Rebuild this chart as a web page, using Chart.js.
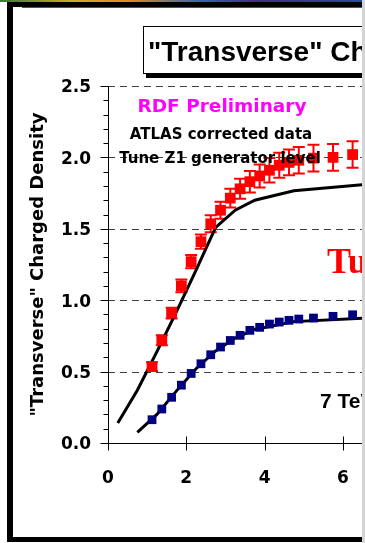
<!DOCTYPE html>
<html>
<head>
<meta charset="utf-8">
<script src="https://cdn.jsdelivr.net/npm/chart.js@4.4.0/dist/chart.umd.min.js"></script>
<style>
  html, body { margin: 0; padding: 0; background: #fff; overflow: hidden; }
  #slide { position: relative; width: 365px; height: 543px; overflow: hidden; }
  #chartBox { position: absolute; left: 0; top: 0; width: 362px; height: 543px; }
  .blk { position: absolute; background: #000; }
  #topStrip { position: absolute; left: 0; top: 0; width: 365px; height: 2px;
    background: linear-gradient(to right, #3a7a3a 0%, #c8b020 20%, #e08a20 35%, #2a6ab0 55%, #403080 70%, #2050a0 100%); }
  #blueLine { position: absolute; left: 22px; top: 7px; width: 340px; height: 1px; background: #3050c0; }
  #greyEdge { position: absolute; left: 362px; top: 0; width: 3px; height: 543px; background: #d4d4d4; }
  #titleBox { position: absolute; left: 143px; top: 26px; width: 400px; height: 46px;
    border: 1px solid #000; background: #fff; box-shadow: 3px 4px 0 #000; }
  #titleBox span { position: absolute; left: 4px; top: 11px; white-space: nowrap;
    font: bold 28px "Liberation Sans", Arial, sans-serif; line-height: 28px; color: #000; }
  #tuneTxt { position: absolute; left: 327px; top: 243px; white-space: nowrap;
    font: bold 36px "Liberation Serif", "Times New Roman", serif; line-height: 36px; color: #ff0000; }
  #energyTxt { position: absolute; left: 320px; top: 390px; white-space: nowrap;
    font: bold 21px "Liberation Sans", Arial, sans-serif; line-height: 21px; color: #000; }
</style>
</head>
<body>
<div id="slide">
  <div id="chartBox"><canvas id="chart"></canvas></div>
  <div id="tuneTxt">Tune Z1</div>
  <div id="energyTxt">7 TeV</div>
  <div id="topStrip"></div>
  <div class="blk" style="left:7px; top:2px; width:355px; height:5px;"></div>
  <div id="blueLine"></div>
  <div class="blk" style="left:7px; top:2px; width:6px; height:540px;"></div>
  <div class="blk" style="left:7px; top:537px; width:355px; height:5px;"></div>
  <div id="titleBox"><span>"Transverse" Charged Particle Density</span></div>
  <div id="greyEdge"></div>
</div>
<script>
// PTmax bins (GeV/c) of the corrected data
const dataPt = [1.125, 1.375, 1.625, 1.875, 2.125, 2.375, 2.625, 2.875, 3.125, 3.375,
  3.625, 3.875, 4.125, 4.375, 4.625, 4.875, 5.25, 5.75, 6.25];
const redDensity = [0.535, 0.72, 0.91, 1.10, 1.27, 1.41, 1.535, 1.63, 1.715, 1.78,
  1.83, 1.87, 1.91, 1.945, 1.965, 1.98, 1.995, 2.00, 2.02];
const redError = [0.03, 0.035, 0.038, 0.045, 0.047, 0.05, 0.06, 0.06, 0.065, 0.07,
  0.075, 0.08, 0.085, 0.088, 0.09, 0.093, 0.093, 0.093, 0.093];
const blueDensity = [0.163, 0.238, 0.32, 0.405, 0.487, 0.555, 0.618, 0.672, 0.718, 0.754,
  0.789, 0.81, 0.833, 0.847, 0.859, 0.868, 0.875, 0.887, 0.898];

// generator level curves
const mcUpperPt = [0.25, 0.75, 1.25, 1.75, 2.25, 2.75, 3.25, 3.75, 4.75, 6.75];
const mcUpper = [0.14, 0.37, 0.64, 0.92, 1.21, 1.51, 1.63, 1.70, 1.767, 1.815];
const mcLowerPt = [0.75, 1.25, 1.75, 2.25, 2.75, 3.25, 3.75, 4.75, 6.75];
const mcLower = [0.074, 0.20, 0.365, 0.52, 0.645, 0.735, 0.795, 0.85, 0.877];

const xTicks = [0, 2, 4, 6];
const yLabels = ['0.0', '0.5', '1.0', '1.5', '2.0', '2.5'];

const toPoints = (xs, ys) => xs.map((x, i) => ({x: x, y: ys[i]}));

const decor = {
	id: 'decor',
	beforeDatasetsDraw(chart) {
		const {ctx, chartArea: a, scales: {x, y}} = chart;
		ctx.save();

		// dashed horizontal grid
		ctx.strokeStyle = '#404040';
		ctx.lineWidth = 1;
		ctx.setLineDash([7, 5]);
		y.ticks.forEach(t => {
			if (t.value === 0) return;
			const py = Math.round(y.getPixelForValue(t.value)) + 0.5;
			ctx.beginPath();
			ctx.moveTo(a.left, py);
			ctx.lineTo(a.right, py);
			ctx.stroke();
		});
		ctx.setLineDash([]);

		// axes
		ctx.strokeStyle = '#000';
		const ax = Math.round(a.left) + 0.5;
		const ay = Math.round(a.bottom) + 0.5;
		ctx.beginPath();
		ctx.moveTo(ax, a.top);
		ctx.lineTo(ax, ay);
		ctx.lineTo(a.right, ay);
		ctx.stroke();

		// y tick marks, minor every 0.1
		for (let i = 0; i <= 25; i++) {
			const py = Math.round(y.getPixelForValue(i / 10)) + 0.5;
			ctx.beginPath();
			ctx.moveTo(ax - (i % 5 === 0 ? 8 : 5), py);
			ctx.lineTo(ax, py);
			ctx.stroke();
		}
		// x tick marks
		xTicks.forEach(v => {
			const px = Math.round(x.getPixelForValue(v)) + 0.5;
			ctx.beginPath();
			ctx.moveTo(px, ay - 7);
			ctx.lineTo(px, ay + 7);
			ctx.stroke();
		});

		// error bars on the red data
		ctx.strokeStyle = '#ff0000';
		ctx.lineWidth = 2;
		dataPt.forEach((p, i) => {
			const px = x.getPixelForValue(p);
			const hi = y.getPixelForValue(redDensity[i] + redError[i]);
			const lo = y.getPixelForValue(redDensity[i] - redError[i]);
			ctx.beginPath();
			ctx.moveTo(px, hi);
			ctx.lineTo(px, lo);
			ctx.moveTo(px - 6, hi);
			ctx.lineTo(px + 6, hi);
			ctx.moveTo(px - 6, lo);
			ctx.lineTo(px + 6, lo);
			ctx.stroke();
		});
		ctx.restore();
	},
	afterDatasetsDraw(chart) {
		// legend notes sit on top of the markers
		const {ctx} = chart;
		ctx.save();
		ctx.textAlign = 'center';
		ctx.textBaseline = 'alphabetic';
		ctx.fillStyle = '#ff00ff';
		ctx.font = 'bold 18.5px "DejaVu Sans"';
		ctx.fillText('RDF Preliminary', 222, 112);
		ctx.fillStyle = '#000';
		ctx.font = 'bold 15px "DejaVu Sans"';
		ctx.fillText('ATLAS corrected data', 221, 139);
		ctx.fillText('Tune Z1 generator level', 220, 163);
		ctx.restore();
	}
};

new Chart(document.getElementById('chart'), {
	type: 'scatter',
	data: {
		datasets: [{
			data: toPoints(dataPt, redDensity),
			pointStyle: 'rect',
			pointRadius: 7.6,
			borderWidth: 0,
			backgroundColor: '#ff0000',
			borderColor: '#ff0000'
		}, {
			data: toPoints(dataPt, blueDensity),
			pointStyle: 'rect',
			pointRadius: 6.2,
			borderWidth: 0,
			backgroundColor: '#000080',
			borderColor: '#000080'
		}, {
			data: toPoints(mcUpperPt, mcUpper),
			showLine: true,
			pointRadius: 0,
			borderWidth: 3,
			borderColor: '#000',
			fill: false
		}, {
			data: toPoints(mcLowerPt, mcLower),
			showLine: true,
			pointRadius: 0,
			borderWidth: 3,
			borderColor: '#000',
			fill: false
		}]
	},
	options: {
		responsive: true,
		maintainAspectRatio: false,
		animation: false,
		// plot runs off the right edge of the slide, so no room is kept for point overflow
		layout: {autoPadding: false, padding: {top: 86, right: 0, bottom: 0, left: 0}},
		plugins: {legend: {display: false}, tooltip: {enabled: false}},
		scales: {
			x: {
				type: 'linear',
				min: 0,
				max: 6.49,
				// tick marks are drawn by the plugin; tickLength only pushes the labels down
				grid: {display: false, drawTicks: true, tickLength: 25},
				border: {display: false},
				ticks: {
					stepSize: 2,
					includeBounds: false,
					maxRotation: 0,
					padding: 0,
					color: '#000',
					font: {family: 'DejaVu Sans', weight: 'bold', size: 17}
				},
				afterFit(s) {
					s.height = 100;
					s.paddingRight = 0;
				}
			},
			y: {
				min: 0,
				max: 2.5,
				grid: {display: false, drawTicks: false},
				border: {display: false},
				ticks: {
					stepSize: 0.5,
					padding: 17,
					labelOffset: 2,
					color: '#000',
					font: {family: 'DejaVu Sans', weight: 'bold', size: 17},
					callback: (v, i) => yLabels[i]
				},
				title: {
					display: true,
					text: '"Transverse" Charged Density',
					color: '#000',
					font: {family: 'DejaVu Sans', weight: 'bold', size: 18},
					padding: {top: 28, bottom: 0}
				},
				afterFit(s) { s.width = 108; }
			}
		}
	},
	plugins: [decor]
});
</script>
</body>
</html>
